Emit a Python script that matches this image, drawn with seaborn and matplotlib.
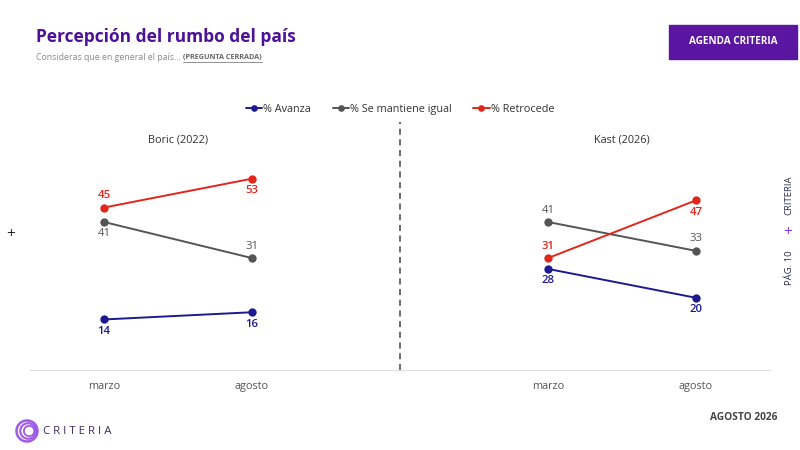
import matplotlib
matplotlib.use("Agg")
import matplotlib.pyplot as plt
import matplotlib.patches as mpatches
import pandas as pd
import seaborn as sns

# data
panels = ["Boric (2022)", "Kast (2026)"]
months = ["marzo", "agosto"]
series = ["% Avanza", "% Se mantiene igual", "% Retrocede"]
avanza = [14, 16, 28, 20]
mantiene = [41, 31, 41, 33]
retrocede = [45, 53, 31, 47]

colors = {"% Avanza": "#1b1b8f", "% Se mantiene igual": "#555555", "% Retrocede": "#e3261b"}
purple = "#4d1199"

# x slots: two panels, one empty slot between them for the divider
slots = [0, 1, 3, 4]
rows = []
for name, vals in zip(series, [avanza, mantiene, retrocede]):
    for i, v in enumerate(vals):
        rows.append({"serie": name, "pos": slots[i], "mes": months[i % 2], "valor": v})
df = pd.DataFrame(rows)

sns.set_theme(style="white")
plt.rcParams["font.family"] = ["Open Sans", "DejaVu Sans"]

fig = plt.figure(figsize=(8, 4.5), dpi=100)
ax = fig.add_axes([30 / 800, 1 - 370 / 450, 740 / 800, 248 / 450])

sns.lineplot(data=df[df.pos < 2], x="pos", y="valor", hue="serie", palette=colors,
             marker="o", markersize=6, markeredgewidth=0, linewidth=1.4, ax=ax,
             hue_order=series)
sns.lineplot(data=df[df.pos > 2], x="pos", y="valor", hue="serie", palette=colors,
             marker="o", markersize=6, markeredgewidth=0, linewidth=1.4, ax=ax,
             hue_order=series, legend=False)

ax.set_xlim(-0.5, 4.5)
ax.set_ylim(0, 68.7)
ax.set_xticks(slots)
ax.set_xticklabels(months * 2, color="#555555", fontsize=7.8)
ax.tick_params(axis="x", length=0, pad=8)
ax.set_yticks([])
ax.set_xlabel("")
ax.set_ylabel("")
for s in ["top", "left", "right"]:
    ax.spines[s].set_visible(False)
ax.spines["bottom"].set_color("#dddddd")
ax.spines["bottom"].set_linewidth(0.8)

ax.axvline(2, color="#444444", linestyle=(0, (4, 3)), linewidth=1.1)

# panel titles
ax.text(0.5, 63.7, panels[0], ha="center", va="center", fontsize=7.8, color="#333333")
ax.text(3.5, 63.7, panels[1], ha="center", va="center", fontsize=7.8, color="#333333")

# value labels: +1 above the point, -1 below
placement = {
    "% Avanza": [-1, -1, -1, -1],
    "% Se mantiene igual": [-1, 1, 1, 1],
    "% Retrocede": [1, -1, 1, -1],
}
for name, vals in zip(series, [avanza, mantiene, retrocede]):
    for i, v in enumerate(vals):
        d = placement[name][i]
        weight = "normal" if name == "% Se mantiene igual" else "semibold"
        ax.text(slots[i], v + d * 3.3, str(v), ha="center", va="center",
                fontsize=8.2, color=colors[name], fontweight=weight)

leg = ax.legend(loc="center", bbox_to_anchor=(0.5, 1.05), ncol=3, frameon=False,
                fontsize=7.8, handlelength=1.5, handletextpad=0.1, columnspacing=2.0,
                markerscale=0.8)
for t in leg.get_texts():
    t.set_color("#333333")

# header
fig.text(36 / 800, 1 - 37 / 450, "Percepción del rumbo del país", fontsize=12.5,
         fontweight="bold", color=purple, va="center", ha="left")
fig.text(36 / 800, 1 - 58 / 450, "Consideras que en general el país...", fontsize=6.3,
         color="#888888", va="center", ha="left")
fig.text(183 / 800, 1 - 58 / 450, "(PREGUNTA CERRADA)", fontsize=5.2, fontweight="bold",
         color="#666666", va="center", ha="left")
fig.add_artist(plt.Line2D([183 / 800, 262 / 800], [1 - 61.5 / 450] * 2, color="#666666",
                          linewidth=0.5))

fig.add_artist(mpatches.Rectangle((669 / 800, 1 - 59 / 450), 128 / 800, 34 / 450,
                                  transform=fig.transFigure, color="#5a16a0"))
fig.text(733 / 800, 1 - 42 / 450, "AGENDA CRITERIA", fontsize=7.2, fontweight="bold",
         color="white", va="center", ha="center")

# side marks
fig.text(11 / 800, 1 - 234 / 450, "+", fontsize=11, color="#222222", va="center", ha="center")
fig.text(789 / 800, 1 - 195 / 450, "CRITERIA", fontsize=6.8, rotation=90,
         color="#2a2a4a", va="center", ha="center")
fig.text(788 / 800, 1 - 233 / 450, "+", fontsize=11, color="#8a2be2", va="center", ha="center")
fig.text(789 / 800, 1 - 268 / 450, "PÁG. 10", fontsize=6.8, rotation=90,
         color="#2a2a4a", va="center", ha="center")

# footer
fig.text(777 / 800, 1 - 417 / 450, "AGOSTO 2026", fontsize=7.3, fontweight="bold",
         color="#444444", va="center", ha="right")
for r, lw in [(10.5, 1.8), (7.8, 1.5), (5.2, 1.3)]:
    fig.add_artist(mpatches.Ellipse((27 / 800 + (10.5 - r) * 0.0005, 1 - 431 / 450),
                                    2 * r / 800, 2 * r / 450, transform=fig.transFigure,
                                    fill=False, edgecolor="#a05ae6", linewidth=lw))
fig.text(43 / 800, 1 - 432 / 450, "C R I T E R I A", fontsize=8.2, color="#3a2a5a",
         va="center", ha="left")

fig.savefig("out.png", dpi=100)
